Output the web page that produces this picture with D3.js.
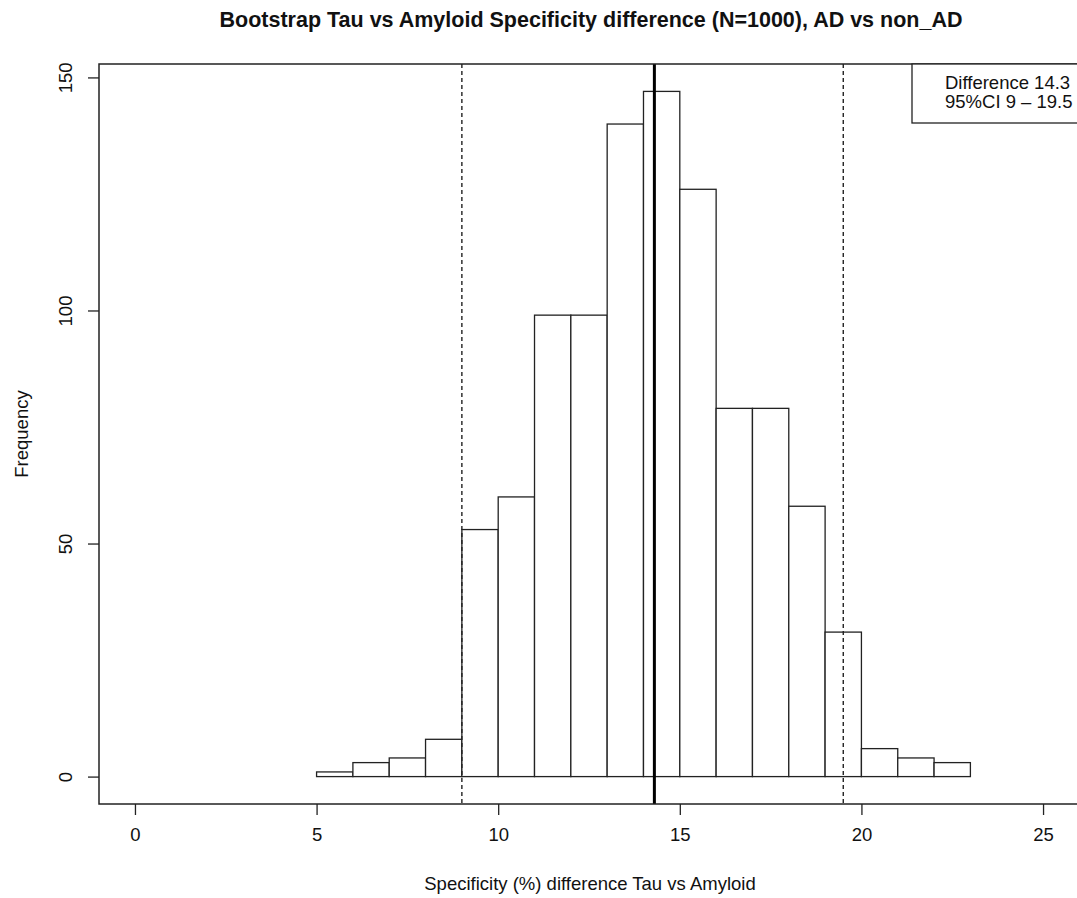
<!DOCTYPE html>
<html>
<head>
<meta charset="utf-8">
<script src="https://cdn.jsdelivr.net/npm/d3@7"></script>
<style>
  body { margin: 0; background: #fff; }
  text { font-family: "Liberation Sans", Arial, sans-serif; fill: #111; }
</style>
</head>
<body>
<svg width="1077" height="898"></svg>
<script>
// histogram bins (lower edges) and counts
var binStarts = [5, 6, 7, 8, 9, 10, 11, 12, 13, 14, 15, 16, 17, 18, 19, 20, 21, 22];
var counts = [1, 3, 4, 8, 53, 60, 99, 99, 140, 147, 126, 79, 79, 58, 31, 6, 4, 3];
var xTicks = [0, 5, 10, 15, 20, 25];
var yTicks = [0, 50, 100, 150];
var meanDiff = 14.3;
var ciBounds = [9, 19.5];
var legendLines = ["Difference 14.3", "95%CI 9 \u2013 19.5"];

var bins = binStarts.map(function(s, i) {
  return { x0: s, x1: s + 1, count: counts[i] };
});

var svg = d3.select("svg"),
  margin = { top: 64, right: -6, bottom: 94, left: 99 },
  width = +svg.attr("width") - margin.left - margin.right,
  height = +svg.attr("height") - margin.top - margin.bottom;

var x = d3.scaleLinear().domain([-0.99, 26.1]).range([0, width]),
  y = d3.scaleLinear().domain([-5.88, 152.88]).range([height, 0]);

var g = svg.append("g")
  .attr("transform", "translate(" + margin.left + "," + margin.top + ")");

// bars
g.selectAll(".bar")
  .data(bins)
  .enter().append("rect")
  .attr("class", "bar")
  .attr("x", function(d) { return x(d.x0); })
  .attr("y", function(d) { return y(d.count); })
  .attr("width", function(d) { return x(d.x1) - x(d.x0); })
  .attr("height", function(d) { return y(0) - y(d.count); })
  .attr("fill", "#fff")
  .attr("stroke", "#222")
  .attr("stroke-width", 1.3);

// CI dashed lines
g.selectAll(".ci")
  .data(ciBounds)
  .enter().append("line")
  .attr("x1", function(d) { return x(d); })
  .attr("x2", function(d) { return x(d); })
  .attr("y1", 0)
  .attr("y2", height)
  .attr("stroke", "#222")
  .attr("stroke-width", 1.4)
  .attr("stroke-dasharray", "4,3");

// mean line
g.append("line")
  .attr("x1", x(meanDiff))
  .attr("x2", x(meanDiff))
  .attr("y1", 0)
  .attr("y2", height)
  .attr("stroke", "#000")
  .attr("stroke-width", 3);

// plot box
g.append("rect")
  .attr("width", width)
  .attr("height", height)
  .attr("fill", "none")
  .attr("stroke", "#222")
  .attr("stroke-width", 1.5);

// x axis
var xAxis = g.append("g")
  .attr("transform", "translate(0," + height + ")")
  .call(d3.axisBottom(x).tickValues(xTicks).tickSize(11).tickPadding(13).tickFormat(d3.format("d")));
xAxis.select(".domain").remove();
xAxis.selectAll("line").attr("stroke", "#222").attr("stroke-width", 1.3);
xAxis.selectAll("text").attr("font-size", 18.5).attr("fill", "#111")
  .style("font-family", "'Liberation Sans', Arial, sans-serif");

// y axis
var yAxis = g.append("g")
  .call(d3.axisLeft(y).tickValues(yTicks).tickSize(11).tickFormat(d3.format("d")));
yAxis.select(".domain").remove();
yAxis.selectAll("line").attr("stroke", "#222").attr("stroke-width", 1.3);
yAxis.selectAll("text")
  .attr("font-size", 18.5).attr("fill", "#111")
  .style("font-family", "'Liberation Sans', Arial, sans-serif")
  .attr("x", null).attr("dy", null)
  .attr("text-anchor", "middle")
  .attr("transform", "translate(-27,0) rotate(-90)");

// legend
var legend = g.append("g")
  .attr("transform", "translate(" + (912 - margin.left) + ",0)");
legend.append("rect")
  .attr("width", width - (912 - margin.left))
  .attr("height", 59)
  .attr("fill", "#fff")
  .attr("stroke", "#222")
  .attr("stroke-width", 1.3);
legend.selectAll("text")
  .data(legendLines)
  .enter().append("text")
  .attr("x", 33)
  .attr("y", function(d, i) { return 25 + i * 19; })
  .attr("font-size", 18.5)
  .text(function(d) { return d; });

// titles
svg.append("text")
  .attr("x", 591)
  .attr("y", 27)
  .attr("text-anchor", "middle")
  .attr("font-size", 21.5)
  .attr("font-weight", "bold")
  .text("Bootstrap Tau vs Amyloid Specificity difference (N=1000), AD vs non_AD");

svg.append("text")
  .attr("x", 590)
  .attr("y", 890)
  .attr("text-anchor", "middle")
  .attr("font-size", 18.5)
  .text("Specificity (%) difference Tau vs Amyloid");

svg.append("text")
  .attr("transform", "translate(28,434) rotate(-90)")
  .attr("text-anchor", "middle")
  .attr("font-size", 18.5)
  .text("Frequency");
</script>
</body>
</html>
